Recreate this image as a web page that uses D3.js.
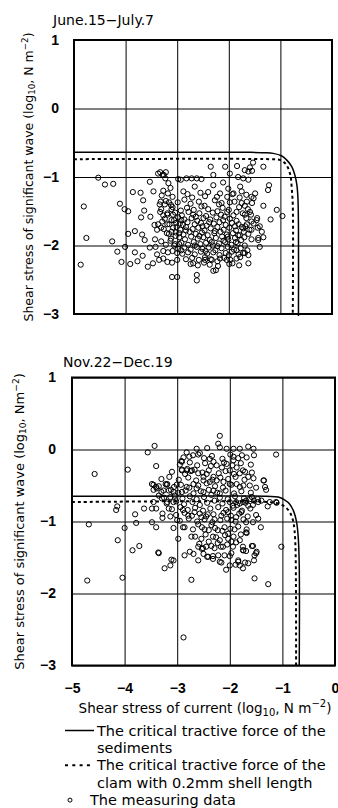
<!DOCTYPE html>
<html><head><meta charset="utf-8">
<script src="https://cdn.jsdelivr.net/npm/d3@7"></script>
<style>body{margin:0;background:#fff}svg{display:block}</style>
</head><body>
<svg id="chart" width="338" height="808"></svg>
<script>
const xTicks = [-5, -4, -3, -2, -1, 0];
const yTicks = [-3, -2, -1, 0, 1];
const panelTitles = ["June.15\u2212July.7", "Nov.22\u2212Dec.19"];

// June.15-July.7 : [log10 current shear stress, log10 wave shear stress]
const juneData = [
[-4.53,-1.01],[-4.40,-1.11],[-4.24,-1.10],[-4.81,-1.43],[-4.76,-1.89],[-4.87,-2.28],[-4.26,-1.94],[-4.16,-2.09],[-4.01,-2.02],[-4.08,-2.24],[-3.91,-2.27],[-4.11,-1.39],[-4.02,-1.47],[-3.95,-1.50],[-3.86,-1.22],[-3.71,-1.23],[-3.66,-1.34],[-3.53,-1.07],[-3.46,-1.21],[-3.64,-1.49],[-3.70,-1.59],[-3.52,-1.58],[-3.95,-1.83],[-3.82,-1.79],[-3.68,-1.84],[-3.63,-1.92],[-3.82,-2.10],[-3.77,-2.23],[-3.67,-2.15],[-3.57,-2.31],[-3.47,-2.26],[-3.53,-2.03],[-3.43,-1.91],[-3.42,-2.02],[-3.39,-2.13],[-3.35,-2.21],[-3.33,-0.93],[-3.26,-0.97],[-3.22,-0.93],[-3.23,-1.02],[-3.17,-1.09],[-3.13,-1.16],[-2.98,-1.03],[-2.93,-1.04],[-3.27,-1.20],[-3.32,-1.36],[-3.24,-1.40],[-3.16,-1.37],[-3.33,-1.51],[-3.27,-1.56],[-3.19,-1.53],[-3.11,-1.47],[-3.08,-1.55],[-3.44,-1.70],[-3.37,-1.69],[-3.31,-1.74],[-3.39,-1.77],[-3.29,-1.65],[-3.19,-1.69],[-3.06,-1.63],[-3.01,-1.73],[-2.95,-1.68],[-3.20,-1.82],[-3.11,-1.80],[-3.03,-1.86],[-2.96,-1.82],[-3.31,-1.94],[-3.22,-1.99],[-3.13,-1.93],[-3.06,-2.00],[-2.96,-1.98],[-3.27,-2.08],[-3.18,-2.10],[-3.09,-2.08],[-3.00,-2.11],[-2.92,-2.07],[-3.27,-2.19],[-3.19,-2.24],[-3.10,-2.25],[-3.00,-2.21],[-3.10,-2.46],[-3.00,-2.46],
[-2.35,-0.85],[-2.07,-0.85],[-1.84,-0.84],[-1.69,-0.90],[-1.53,-0.79],[-1.33,-0.85],[-1.59,-0.86],[-1.62,-0.92],[-1.55,-0.91],[-2.30,-0.97],[-1.98,-0.95],[-1.82,-1.00],[-1.72,-1.02],[-1.62,-1.04],[-1.22,-1.12],[-1.24,-1.19],[-2.82,-1.02],[-2.72,-1.02],[-2.62,-1.02],[-2.53,-1.03],[-2.66,-1.14],[-2.88,-1.21],[-2.30,-1.12],[-2.11,-1.08],[-2.01,-1.17],[-1.78,-1.14],[-1.75,-1.21],[-1.91,-1.24],[-2.17,-1.24],[-2.23,-1.29],[-1.49,-1.24],[-1.56,-1.29],[-1.65,-1.36],[-1.75,-1.38],[-1.98,-1.37],[-2.14,-1.38],[-1.33,-1.42],[-1.07,-1.48],[-1.19,-1.62],[-0.96,-1.57],[-1.59,-1.51],[-1.69,-1.55],[-1.85,-1.51],[-1.45,-1.60],[-1.56,-1.65],[-1.65,-1.69],[-1.75,-1.73],[-1.40,-1.72],[-1.36,-1.80],[-1.33,-1.88],[-1.43,-1.89],[-1.56,-1.77],[-1.71,-1.80],[-1.82,-1.85],[-1.43,-1.92],[-1.40,-2.02],[-1.56,-1.91],[-1.62,-2.14],[-1.78,-2.17],[-1.62,-2.26],[-1.93,-2.26],[-1.72,-2.11],[-1.85,-2.07],[-2.30,-2.37],[-2.25,-2.36],[-2.62,-2.43],[-2.62,-2.51],[-2.69,-2.26],[-2.46,-2.21],[-2.33,-2.21],[-2.17,-2.19],[-2.04,-2.21],[-3.37,-0.95],[-3.28,-0.97],
[-3.30,-1.27],[-3.18,-1.24],[-3.09,-1.29],[-2.80,-1.25],[-2.71,-1.30],[-2.55,-1.23],[-2.46,-1.28],[-2.40,-1.22],[-2.03,-1.29],[-1.93,-1.25],[-1.79,-1.30],[-1.66,-1.26],[-1.52,-1.31],
[-3.34,-1.40],[-3.22,-1.35],[-3.12,-1.41],[-2.99,-1.37],[-2.86,-1.33],[-2.74,-1.39],[-2.58,-1.36],[-2.47,-1.42],[-2.27,-1.34],[-2.19,-1.40],[-1.89,-1.36],[-1.69,-1.42],[-1.55,-1.38],
[-3.31,-1.47],[-3.09,-1.44],[-2.93,-1.49],[-2.81,-1.45],[-2.68,-1.48],[-2.53,-1.43],[-2.40,-1.47],[-2.22,-1.50],[-2.12,-1.45],[-2.00,-1.48],[-1.80,-1.44],[-1.63,-1.47],
[-3.19,-1.55],[-3.04,-1.52],[-2.91,-1.56],[-2.78,-1.51],[-2.69,-1.55],[-2.57,-1.53],[-2.44,-1.57],[-2.31,-1.52],[-2.15,-1.55],[-2.03,-1.51],[-1.91,-1.56],[-1.73,-1.53],[-1.57,-1.55],
[-3.24,-1.61],[-3.11,-1.63],[-2.98,-1.59],[-2.86,-1.62],[-2.72,-1.60],[-2.61,-1.64],[-2.49,-1.60],[-2.36,-1.62],[-2.24,-1.59],[-2.11,-1.63],[-1.98,-1.61],[-1.85,-1.64],[-1.66,-1.60],[-1.46,-1.63],
[-3.15,-1.69],[-3.02,-1.67],[-2.89,-1.70],[-2.80,-1.66],[-2.66,-1.69],[-2.54,-1.67],[-2.43,-1.71],[-2.29,-1.68],[-2.18,-1.66],[-2.06,-1.70],[-1.94,-1.67],[-1.81,-1.69],[-1.68,-1.72],[-1.52,-1.68],
[-3.26,-1.76],[-3.08,-1.74],[-2.94,-1.77],[-2.83,-1.73],[-2.70,-1.76],[-2.59,-1.74],[-2.47,-1.78],[-2.35,-1.75],[-2.22,-1.73],[-2.10,-1.77],[-1.99,-1.74],[-1.86,-1.78],[-1.72,-1.75],[-1.60,-1.77],[-1.44,-1.74],
[-3.16,-1.83],[-3.03,-1.81],[-2.88,-1.84],[-2.76,-1.80],[-2.64,-1.83],[-2.52,-1.81],[-2.41,-1.85],[-2.28,-1.82],[-2.16,-1.80],[-2.04,-1.84],[-1.92,-1.82],[-1.79,-1.85],[-1.62,-1.83],
[-3.12,-1.90],[-2.96,-1.88],[-2.85,-1.91],[-2.73,-1.87],[-2.60,-1.90],[-2.49,-1.88],[-2.37,-1.92],[-2.25,-1.89],[-2.13,-1.87],[-2.01,-1.91],[-1.88,-1.89],[-1.76,-1.92],
[-3.04,-1.98],[-2.92,-1.96],[-2.79,-1.99],[-2.68,-1.95],[-2.55,-1.98],[-2.44,-1.96],[-2.31,-2.00],[-2.19,-1.97],[-2.07,-1.95],[-1.95,-1.99],[-1.83,-1.97],[-1.69,-2.00],
[-2.98,-2.05],[-2.86,-2.03],[-2.74,-2.06],[-2.62,-2.02],[-2.51,-2.05],[-2.39,-2.03],[-2.26,-2.07],[-2.14,-2.04],[-2.02,-2.02],[-1.90,-2.06],[-1.77,-2.04],[-1.64,-2.07],
[-2.90,-2.12],[-2.79,-2.10],[-2.66,-2.13],[-2.54,-2.09],[-2.42,-2.12],[-2.30,-2.10],[-2.18,-2.14],[-2.06,-2.11],[-1.94,-2.09],[-1.81,-2.13],[-1.69,-2.11],
[-2.83,-2.20],[-2.71,-2.18],[-2.58,-2.21],[-2.46,-2.17],[-2.35,-2.20],[-2.22,-2.23],[-2.09,-2.18],[-1.97,-2.21],[-1.85,-2.19],
[-2.74,-2.27],[-2.60,-2.29],[-2.48,-2.25],[-2.37,-2.28],[-2.21,-2.30],[-1.99,-2.27],[-1.80,-2.29],
[-2.92,-1.63],[-2.64,-1.58],[-2.38,-1.66],[-2.08,-1.58],[-1.88,-1.72],[-2.57,-1.86],[-2.33,-1.95],[-2.10,-1.93],[-1.86,-1.95],[-2.66,-2.00],[-2.45,-2.08],[-2.22,-2.01],[-2.00,-2.14],[-2.83,-1.78],[-2.51,-1.72],[-2.27,-1.79],[-2.02,-1.87],[-1.70,-1.88]
];

// Nov.22-Dec.19
const novData = [
[-3.43,0.05],[-3.56,-0.04],[-3.40,-0.23],[-3.94,-0.28],[-4.57,-0.34],[-3.48,-0.48],[-3.45,-0.56],[-3.40,-0.52],[-3.19,-0.48],[-3.26,-0.57],[-3.16,-0.57],[-3.35,-0.64],[-3.29,-0.68],[-3.45,-0.73],[-3.48,-0.82],[-3.40,-0.82],[-3.19,-0.73],[-3.13,-0.66],[-3.07,-0.73],[-3.16,-0.82],[-3.28,-0.89],[-3.28,-0.95],[-3.13,-0.93],[-3.63,-0.82],[-3.80,-0.90],[-3.78,-1.02],[-3.48,-1.01],[-3.40,-1.08],[-3.07,-1.09],[-3.00,-0.98],[-2.98,-1.24],[-4.14,-0.79],[-4.16,-0.84],[-4.68,-1.04],[-4.00,-1.09],[-4.13,-1.26],[-3.85,-1.40],[-3.72,-1.34],[-3.35,-1.44],[-3.11,-1.53],[-3.13,-1.61],[-3.24,-1.65],[-4.71,-1.82],[-4.04,-1.78],[-2.88,-2.61],
[-2.19,0.19],[-2.22,0.08],[-2.19,0.03],[-2.63,0.01],[-2.43,0.02],[-2.82,-0.04],[-2.57,-0.05],[-1.65,0.04],[-1.55,0.01],[-1.81,0.01],[-1.93,0.01],[-2.06,0.01],[-1.54,-0.08],[-1.68,-0.11],[-1.77,-0.08],[-1.93,-0.10],[-1.12,-0.07],[-2.91,-0.17],[-2.77,-0.10],[-2.60,-0.07],[-2.91,-0.29],[-2.82,-0.29],[-2.72,-0.29],[-2.60,-0.33],[-2.38,-0.13],[-2.31,-0.17],[-2.25,-0.22],[-2.15,-0.25],[-2.06,-0.20],[-2.00,-0.29],[-1.93,-0.15],[-1.87,-0.25],[-1.81,-0.33],[-1.71,-0.31],[-1.65,-0.38],[-1.74,-0.50],[-1.36,-0.43],[-1.33,-0.52],[-2.44,-0.34],[-2.31,-0.38],[-2.50,-0.43],[-2.38,-0.45],[-2.25,-0.43],[-2.12,-0.45],[-2.00,-0.48],[-1.87,-0.48],[-2.69,-0.48],[-2.82,-0.52],[-2.63,-0.54],[-3.45,-0.49],[-3.39,-0.54],[-3.20,-0.49],[-3.01,-0.49],[-3.07,-0.59],[-2.91,-0.59],[-2.50,-0.59],[-2.31,-0.57],[-2.19,-0.61],
[-1.35,-0.43],[-1.31,-0.56],[-1.12,-0.73],[-1.24,-0.73],[-1.40,-0.71],[-1.46,-0.73],[-1.54,-0.71],[-1.62,-0.69],[-1.69,-0.71],[-1.75,-0.73],[-1.81,-0.75],[-1.88,-0.73],[-1.94,-0.78],[-1.65,-0.78],[-1.56,-0.77],[-1.50,-0.91],[-1.46,-0.96],[-1.69,-1.01],[-1.41,-1.08],[-1.69,-1.15],[-1.81,-1.26],[-1.56,-1.34],[-1.02,-1.35],[-1.75,-1.35],[-1.94,-1.35],[-2.13,-1.35],[-2.35,-1.34],[-2.51,-1.37],[-2.60,-1.35],[-2.92,-0.16],[-2.91,-0.28],[-2.81,-0.27],[-2.74,-0.30],[-2.89,-0.84],[-2.79,-0.92],[-2.67,-0.87],[-2.54,-0.94],[-2.42,-0.90],[-2.29,-0.97],[-2.16,-0.92],[-2.03,-0.87],[-1.97,-0.98],[-1.88,-0.94],[-1.78,-0.87],[-2.86,-1.08],[-2.60,-1.04],[-2.48,-1.11],[-2.35,-1.05],[-2.23,-1.12],[-2.10,-1.08],[-2.03,-1.17],[-1.91,-1.11],[-2.73,-1.21],[-2.54,-1.24],[-2.32,-1.21],[-2.19,-1.26],[-2.03,-1.24],[-1.97,-1.28],
[-2.86,-1.47],[-2.76,-1.42],[-2.60,-1.54],[-2.45,-1.35],[-2.29,-1.37],[-2.43,-1.49],[-2.32,-1.48],[-2.16,-1.57],[-2.10,-1.47],[-2.07,-1.67],[-2.00,-1.61],[-2.00,-1.48],[-1.84,-1.54],[-1.81,-1.61],[-1.75,-1.65],[-1.71,-1.57],[-1.65,-1.58],[-1.75,-1.40],[-1.69,-1.41],[-1.53,-1.47],[-1.50,-1.44],[-1.54,-1.54],[-2.73,-1.81],[-1.53,-1.79],[-1.27,-1.87],[-1.97,-1.44],
[-1.68,-1.16],[-1.58,-1.34],[-1.74,-1.40],[-1.49,-1.42],[-2.17,-1.35],[-2.22,-1.47],[-2.41,-1.49],[-2.50,-1.45],[-2.53,-1.38],[-2.69,-1.45],[-3.07,-1.54],[-3.36,-1.43],[-2.89,-1.08],[-1.84,-1.56],[-1.89,-1.60],[-2.19,-1.56],[-2.32,-1.52],[-1.11,-0.74],[-1.28,-0.79],
[-2.88,-0.11],[-2.70,-0.08],[-2.49,-0.12],[-2.34,-0.09],[-2.14,-0.13],[-1.99,-0.07],[-1.84,-0.12],
[-2.95,-0.21],[-2.76,-0.18],[-2.62,-0.22],[-2.47,-0.19],[-2.36,-0.23],[-2.11,-0.18],[-1.95,-0.22],[-1.79,-0.19],[-1.60,-0.21],
[-3.10,-0.31],[-2.85,-0.34],[-2.67,-0.28],[-2.52,-0.32],[-2.40,-0.29],[-2.21,-0.33],[-2.08,-0.30],[-1.92,-0.34],[-1.75,-0.29],[-1.58,-0.32],
[-3.30,-0.41],[-3.15,-0.38],[-2.97,-0.42],[-2.79,-0.39],[-2.64,-0.43],[-2.50,-0.38],[-2.33,-0.42],[-2.18,-0.39],[-2.03,-0.41],[-1.89,-0.38],[-1.72,-0.42],[-1.55,-0.40],
[-3.35,-0.51],[-3.22,-0.48],[-3.06,-0.52],[-2.93,-0.49],[-2.77,-0.53],[-2.60,-0.50],[-2.44,-0.47],[-2.28,-0.51],[-2.13,-0.53],[-1.97,-0.49],[-1.81,-0.52],[-1.62,-0.50],[-1.50,-0.53],
[-3.30,-0.59],[-3.12,-0.56],[-2.98,-0.60],[-2.84,-0.57],[-2.69,-0.61],[-2.55,-0.58],[-2.40,-0.56],[-2.24,-0.60],[-2.08,-0.57],[-1.92,-0.61],[-1.78,-0.58],[-1.60,-0.60],
[-3.25,-0.67],[-3.05,-0.64],[-2.90,-0.68],[-2.76,-0.65],[-2.63,-0.69],[-2.49,-0.66],[-2.35,-0.63],[-2.19,-0.67],[-2.04,-0.69],[-1.90,-0.65],[-1.73,-0.68],[-1.58,-0.66],[-1.47,-0.69],
[-3.20,-0.75],[-3.02,-0.72],[-2.87,-0.76],[-2.71,-0.73],[-2.57,-0.77],[-2.43,-0.74],[-2.29,-0.71],[-2.14,-0.75],[-2.00,-0.73],[-1.86,-0.77],[-1.70,-0.74],
[-3.10,-0.83],[-2.94,-0.80],[-2.80,-0.84],[-2.66,-0.81],[-2.51,-0.85],[-2.37,-0.82],[-2.22,-0.80],[-2.07,-0.84],[-1.93,-0.81],[-1.77,-0.85],[-1.61,-0.82],
[-3.02,-0.91],[-2.86,-0.88],[-2.72,-0.92],[-2.57,-0.89],[-2.45,-0.93],[-2.31,-0.90],[-2.12,-0.88],[-1.98,-0.92],[-1.82,-0.89],[-1.66,-0.93],
[-2.95,-0.99],[-2.78,-0.96],[-2.62,-1.00],[-2.48,-0.97],[-2.33,-1.01],[-2.18,-0.98],[-2.05,-0.96],[-1.89,-1.00],[-1.74,-0.97],[-1.56,-1.01],
[-2.70,-1.11],[-2.53,-1.08],[-2.40,-1.12],[-2.28,-1.09],[-2.14,-1.13],[-1.99,-1.10],[-1.84,-1.07],[-1.68,-1.11],
[-2.66,-1.21],[-2.46,-1.18],[-2.26,-1.22],[-2.09,-1.19],[-1.93,-1.21],[-1.79,-1.18],
[-2.58,-1.31],[-2.40,-1.28],[-2.23,-1.30],[-2.05,-1.32],[-1.88,-1.29]
];

// critical tractive force curves
const juneSediment = [[-5,-0.64],[-1.6,-0.64],[-1.3,-0.645],[-1.14,-0.655],[-0.98,-0.69],[-0.88,-0.75],[-0.78,-0.85],[-0.72,-0.97],[-0.68,-1.12],[-0.66,-1.31],[-0.65,-1.74],[-0.65,-3.03]];
const juneClam = [[-5,-0.74],[-1.2,-0.74],[-1.01,-0.75],[-0.91,-0.80],[-0.85,-0.87],[-0.80,-1.00],[-0.78,-1.17],[-0.76,-1.41],[-0.76,-3.0]];
const novSediment = [[-5,-0.65],[-1.3,-0.65],[-1.08,-0.66],[-0.96,-0.70],[-0.86,-0.76],[-0.78,-0.87],[-0.73,-1.01],[-0.70,-1.21],[-0.68,-1.6],[-0.68,-3.0]];
const novClam = [[-5,-0.73],[-1.25,-0.73],[-1.08,-0.75],[-0.96,-0.79],[-0.86,-0.87],[-0.80,-0.98],[-0.77,-1.12],[-0.75,-1.4],[-0.74,-3.0]];

const legendEntries = [
  {type: "solid", lines: ["The critical tractive force of the", "sediments"]},
  {type: "dotted", lines: ["The critical tractive force of the", "clam with 0.2mm shell length"]},
  {type: "circle", lines: ["The measuring data"]}
];

const FONT = "'DejaVu Sans', 'Liberation Sans', Arial, sans-serif";
const BOLD = "'Liberation Sans', Arial, sans-serif";
const svg = d3.select("#chart");
svg.append("rect").attr("width", 338).attr("height", 808).attr("fill", "#fff");

function panel(cfg) {
  const x = d3.scaleLinear().domain([-5, 0]).range([cfg.left, cfg.right]);
  const y = d3.scaleLinear().domain([-3, 1]).range([cfg.bottom, cfg.top]);
  const g = svg.append("g");
  const fmt = d3.format("d");

  g.append("g").attr("transform", `translate(0,${cfg.bottom})`)
    .call(d3.axisBottom(x).tickValues(xTicks).tickSize(-(cfg.bottom - cfg.top)).tickPadding(18)
      .tickFormat(cfg.showX ? fmt : () => ""))
    .call(a => a.select(".domain").remove())
    .call(a => a.selectAll("line").attr("stroke", "#000").attr("stroke-width", 1))
    .call(a => a.selectAll("text").attr("font-family", BOLD).attr("font-weight", "bold")
      .attr("font-size", 14).attr("fill", "#000"));

  g.append("g").attr("transform", `translate(${cfg.left},0)`)
    .call(d3.axisLeft(y).tickValues(yTicks).tickSize(-(cfg.right - cfg.left)).tickPadding(cfg.yPad).tickFormat(fmt))
    .call(a => a.select(".domain").remove())
    .call(a => a.selectAll("line").attr("stroke", "#000").attr("stroke-width", 1))
    .call(a => a.selectAll("text").attr("font-family", BOLD).attr("font-weight", "bold")
      .attr("font-size", 14).attr("fill", "#000"));

  const line = d3.line().x(d => x(d[0])).y(d => y(d[1])).curve(d3.curveCatmullRom.alpha(0.5));
  g.append("path").attr("d", line(cfg.sediment)).attr("fill", "none").attr("stroke", "#000").attr("stroke-width", 1.5);
  g.append("path").attr("d", line(cfg.clam)).attr("fill", "none").attr("stroke", "#000")
    .attr("stroke-width", 2).attr("stroke-dasharray", "3,3");

  g.append("g").selectAll("circle").data(cfg.data).join("circle")
    .attr("cx", d => x(d[0])).attr("cy", d => y(d[1])).attr("r", 2.6)
    .attr("fill", "none").attr("stroke", "#000").attr("stroke-width", 1);

  g.append("rect").attr("x", cfg.left).attr("y", cfg.top)
    .attr("width", cfg.right - cfg.left).attr("height", cfg.bottom - cfg.top)
    .attr("fill", "none").attr("stroke", "#000").attr("stroke-width", 2);

  g.append("text").attr("x", cfg.titleX).attr("y", cfg.titleY).attr("font-family", FONT)
    .attr("font-size", 14).attr("fill", "#000").text(cfg.title);

  const yt = g.append("text").attr("transform", `translate(${cfg.yTitleX},${(cfg.top + cfg.bottom) / 2}) rotate(-90)`)
    .attr("text-anchor", "middle").attr("font-family", FONT).attr("font-size", cfg.yTitleSize).attr("fill", "#000");
  yt.append("tspan").text("Shear stress of significant wave (log");
  yt.append("tspan").attr("font-size", cfg.yTitleSize * 0.7).attr("dy", 2).text("10");
  yt.append("tspan").attr("dy", -2).text(cfg.yUnit);
  yt.append("tspan").attr("font-size", cfg.yTitleSize * 0.7).attr("dy", -5).text("\u22122");
  yt.append("tspan").attr("dy", 5).text(")");
  return {x, y};
}

panel({left: 74, right: 332, top: 40, bottom: 314, showX: false, yPad: 15,
  data: juneData, sediment: juneSediment, clam: juneClam,
  title: panelTitles[0], titleX: 53, titleY: 25, yTitleX: 33, yTitleSize: 12.5, yUnit: ", N m"});
panel({left: 72, right: 335, top: 377.5, bottom: 665.5, showX: true, yPad: 16,
  data: novData, sediment: novSediment, clam: novClam,
  title: panelTitles[1], titleX: 63, titleY: 367, yTitleX: 24, yTitleSize: 13, yUnit: ", Nm"});

// x-axis title
const xt = svg.append("text").attr("x", 205).attr("y", 712.5).attr("text-anchor", "middle")
  .attr("font-family", FONT).attr("font-size", 13.5).attr("fill", "#000");
xt.append("tspan").text("Shear stress of current (log");
xt.append("tspan").attr("font-size", 10).attr("dy", 3).text("10");
xt.append("tspan").attr("dy", -3).text(", N m");
xt.append("tspan").attr("font-size", 10).attr("dy", -6).text("\u22122");
xt.append("tspan").attr("dy", 6).text(")");

// legend
const lg = svg.append("g");
let baseline = 735.5;
const step = 17.4;
legendEntries.forEach(e => {
  const cy = baseline - 5;
  if (e.type === "solid") {
    lg.append("line").attr("x1", 65).attr("x2", 94).attr("y1", cy).attr("y2", cy).attr("stroke", "#000").attr("stroke-width", 1.5);
  } else if (e.type === "dotted") {
    lg.append("line").attr("x1", 65).attr("x2", 94).attr("y1", cy).attr("y2", cy).attr("stroke", "#000")
      .attr("stroke-width", 2).attr("stroke-dasharray", "3,4.3");
  } else {
    lg.append("circle").attr("cx", 70).attr("cy", cy).attr("r", 2).attr("fill", "none").attr("stroke", "#000").attr("stroke-width", 1);
  }
  const tx = e.type === "circle" ? 90 : 97;
  e.lines.forEach((t, i) => {
    lg.append("text").attr("x", tx).attr("y", baseline + i * step).attr("font-family", FONT)
      .attr("font-size", 14.5).attr("fill", "#000").text(t);
  });
  baseline += e.lines.length * step;
});
</script>
</body></html>
